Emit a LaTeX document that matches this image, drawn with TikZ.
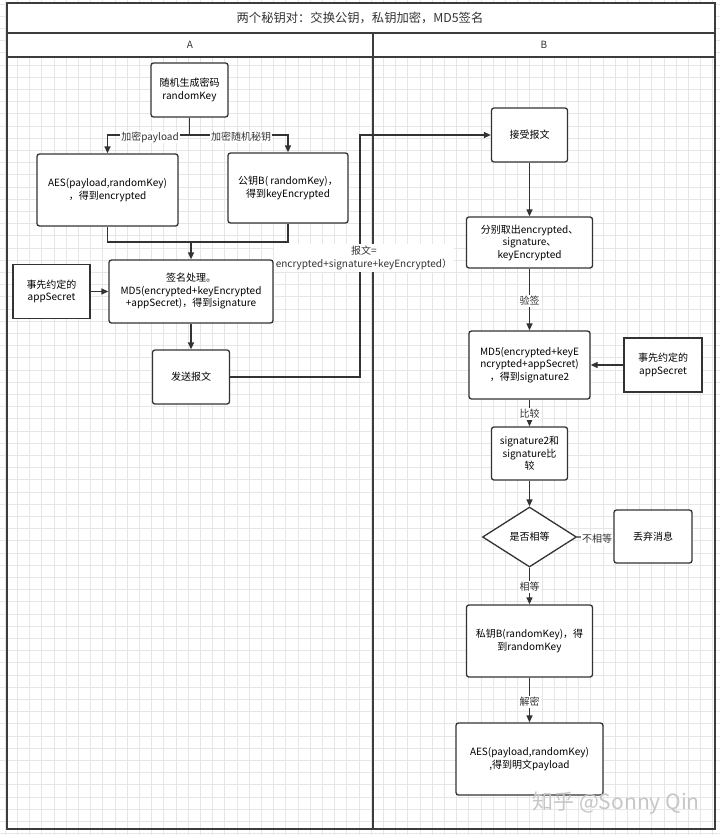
\documentclass[tikz,border=0pt]{standalone}
\usepackage{fontspec}
\setmainfont{Noto Sans CJK SC}
\usetikzlibrary{arrows.meta,shapes.geometric}
\definecolor{ln}{HTML}{333333}
\definecolor{gridc}{HTML}{E6E6E6}
\definecolor{framec}{HTML}{3C3C3C}
\begin{document}
\begin{tikzpicture}[x=1pt,y=-1pt,
  box/.style={draw=ln,line width=1.3pt,rounded corners=2.5pt,fill=white,align=center,inner sep=2pt,font=\fontsize{10}{12.5}\selectfont},
  sqbox/.style={box,rounded corners=0pt},
  arr/.style={draw=ln,line width=1.3pt,-{Triangle[length=7pt,width=6pt]}},
  con/.style={draw=ln,line width=1.3pt},
  lbl/.style={fill=white,inner sep=1pt,font=\fontsize{10}{12}\selectfont,align=center,text=ln}]
\useasboundingbox (0,0) rectangle (720,835);
\fill[white] (0,0) rectangle (720,835);
% grid
\foreach \i in {0,...,58} { \draw[gridc,line width=0.8pt] (5.1+12.2*\i,0) -- (5.1+12.2*\i,835); }
\foreach \j in {0,...,68} { \draw[gridc,line width=0.8pt] (0,4+12.2*\j) -- (720,4+12.2*\j); }
% frame
\fill[white] (7,3) rectangle (715,57);
\draw[framec,line width=2pt] (7,3) rectangle (715,829);
\draw[framec,line width=2pt] (7,33) -- (715,33);
\draw[framec,line width=2pt] (7,57) -- (715,57);
\draw[framec,line width=2pt] (373,33) -- (373,829);
\node[font=\fontsize{12.3}{14}\selectfont,text=ln] (title) at (360,18) {两个秘钥对：交换公钥，私钥加密，MD5签名};
\node[font=\fontsize{10}{12}\selectfont,text=ln] (colA) at (190,45) {A};
\node[font=\fontsize{10}{12}\selectfont,text=ln] (colB) at (544,45) {B};
% A side
\node[box,minimum width=77pt,minimum height=54pt] (rk) at (189.5,90) {随机生成密码\\randomKey};
\node[box,minimum width=141pt,minimum height=72pt] (aes) at (107.5,190) {AES(payload,randomKey)\\，得到encrypted};
\node[box,minimum width=120pt,minimum height=70pt] (pub) at (288,188) {公钥B( randomKey)，\\得到keyEncrypted};
\node[box,minimum width=164pt,minimum height=63pt] (sign) at (191,291.5) {签名处理。\\MD5(encrypted+keyEncrypted\\+appSecret)，得到signature};
\node[sqbox,minimum width=77pt,minimum height=54pt] (secA) at (51.5,291.5) {事先约定的\\appSecret};
\node[box,minimum width=77pt,minimum height=54pt] (send) at (191,377) {发送报文};
% B side
\node[box,minimum width=76pt,minimum height=54pt] (recv) at (529.5,135) {接受报文};
\node[box,minimum width=126pt,minimum height=51pt] (split) at (529.5,242.5) {分别取出encrypted、\\signature、\\keyEncrypted};
\node[box,minimum width=121pt,minimum height=68pt] (md5) at (529.5,365) {MD5(encrypted+keyE\\ncrypted+appSecret)\\，得到signature2};
\node[sqbox,minimum width=78pt,minimum height=54pt] (secB) at (663,365) {事先约定的\\appSecret};
\node[box,minimum width=76pt,minimum height=53pt] (cmp) at (529.5,453.5) {signature2和\\signature比\\较};
\node[draw=ln,line width=1.3pt,diamond,fill=white,minimum width=94pt,minimum height=60pt,inner sep=0pt,font=\fontsize{10}{12}\selectfont] (dia) at (529.5,537) {是否相等};
\node[box,minimum width=78pt,minimum height=53pt] (drop) at (653,536.5) {丢弃消息};
\node[box,minimum width=126pt,minimum height=72pt] (priv) at (529.5,641) {私钥B(randomKey)，得\\到randomKey};
\node[box,minimum width=147pt,minimum height=72pt] (aes2) at (529.5,759) {AES(payload,randomKey)\\,得到明文payload};
% connectors A
\coordinate (split1) at (189.5,135);
\draw[con] (rk.south) -- (split1);
\draw[arr] (split1) -| (aes.north);
\draw[arr] (split1) -| (pub.north);
\node[lbl] (l1) at (150,137) {加密payload};
\node[lbl] (l2) at (241,137) {加密随机秘钥};
\coordinate (merge) at (191,242);
\draw[con] (aes.south) |- (merge);
\draw[con] (pub.south) |- (merge);
\draw[arr] (merge) -- (sign.north);
\draw[arr] (secA.east) -- (sign.west);
\draw[arr] (sign.south) -- (send.north);
\coordinate (c1) at (360,377);
\coordinate (c2) at (360,135);
\draw[arr] (send.east) -- (c1) -- (c2) -- (recv.west);
\node[lbl,inner sep=2pt,font=\fontsize{10}{12.5}\selectfont] (l3) at (364,258) {报文=\\encrypted+signature+keyEncrypted）};
% connectors B
\draw[arr] (recv.south) -- (split.north);
\draw[arr] (split.south) -- (md5.north);
\node[lbl] (l4) at (529.5,301) {验签};
\draw[arr] (secB.west) -- (md5.east);
\draw[arr] (md5.south) -- (cmp.north);
\node[lbl] (l5) at (529.5,414) {比较};
\draw[arr] (cmp.south) -- (dia.north);
\draw[arr] (dia.east) -- (drop.west);
\node[lbl] (l6) at (597,539) {不相等};
\draw[arr] (dia.south) -- (priv.north);
\node[lbl] (l7) at (529.5,587) {相等};
\draw[arr] (priv.south) -- (aes2.north);
\node[lbl] (l8) at (529.5,702) {解密};
% watermark
\node[text=gray!45,font=\fontsize{21}{23}\selectfont] (wm) at (616,803) {知乎 @Sonny Qin};
\end{tikzpicture}
\end{document}
